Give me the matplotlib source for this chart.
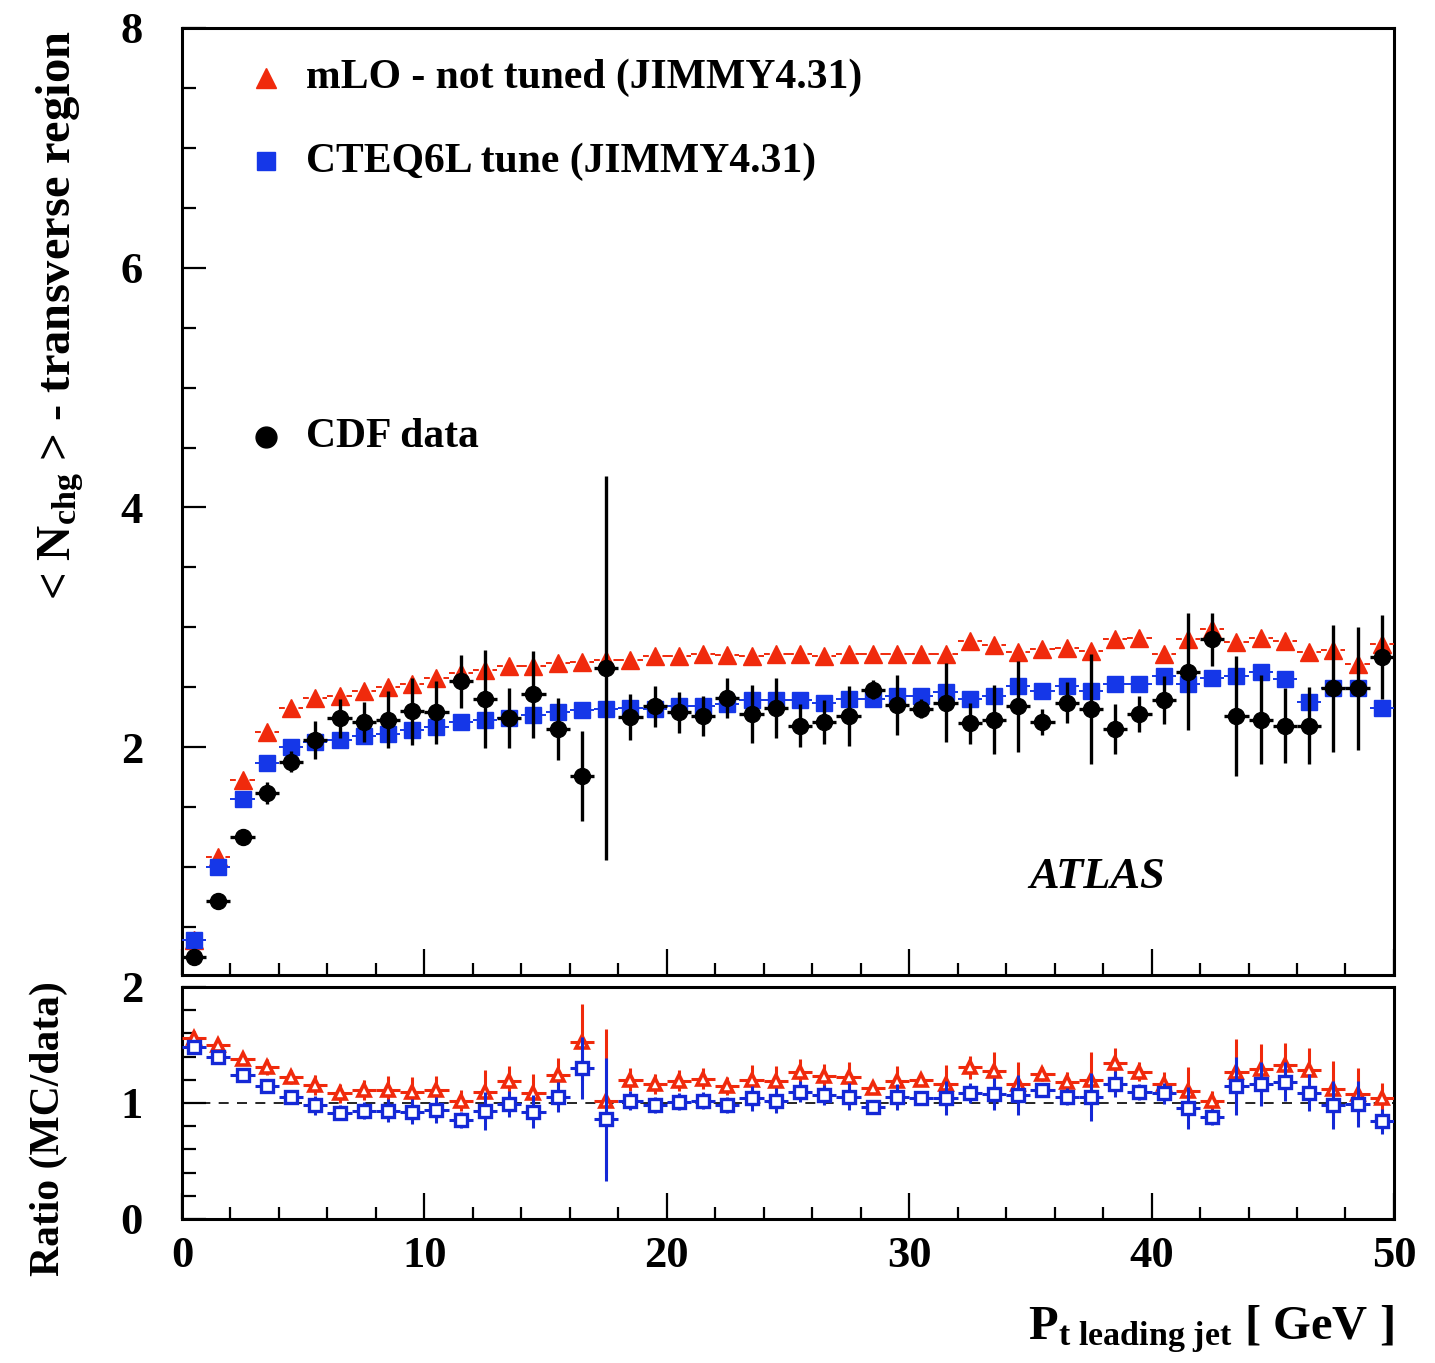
import numpy as np
import matplotlib
matplotlib.use("Agg")
import matplotlib.pyplot as plt
from matplotlib.ticker import MultipleLocator

# leading jet pt bins (1 GeV wide)
pt_bins = np.arange(0.5, 50.0, 1.0)

cdf_data = [0.25, 0.72, 1.25, 1.62, 1.88, 2.06, 2.24, 2.21, 2.23, 2.30,
            2.29, 2.55, 2.40, 2.24, 2.44, 2.15, 1.76, 2.66, 2.25, 2.34,
            2.29, 2.26, 2.41, 2.275, 2.33, 2.18, 2.21, 2.26, 2.48, 2.35,
            2.32, 2.37, 2.20, 2.23, 2.34, 2.21, 2.37, 2.32, 2.15, 2.28,
            2.39, 2.63, 2.90, 2.26, 2.23, 2.18, 2.18, 2.49, 2.49, 2.75]
cdf_err = [0.02, 0.02, 0.02, 0.09, 0.09, 0.16, 0.16, 0.17, 0.24, 0.28,
           0.26, 0.22, 0.41, 0.25, 0.36, 0.26, 0.375, 1.6, 0.19, 0.17,
           0.17, 0.17, 0.17, 0.24, 0.25, 0.18, 0.18, 0.25, 0.08, 0.25,
           0.08, 0.33, 0.17, 0.29, 0.38, 0.11, 0.17, 0.46, 0.21, 0.15,
           0.20, 0.49, 0.22, 0.50, 0.37, 0.31, 0.32, 0.53, 0.51, 0.35]
mlo = [0.39, 1.08, 1.73, 2.125, 2.33, 2.41, 2.43, 2.47, 2.50, 2.53,
       2.58, 2.62, 2.64, 2.68, 2.68, 2.70, 2.71, 2.73, 2.73, 2.76,
       2.76, 2.775, 2.77, 2.76, 2.78, 2.78, 2.76, 2.78, 2.78, 2.78,
       2.78, 2.78, 2.89, 2.85, 2.79, 2.82, 2.83, 2.80, 2.90, 2.91,
       2.775, 2.905, 2.99, 2.88, 2.91, 2.89, 2.79, 2.81, 2.69, 2.86]
cteq = [0.39, 1.00, 1.57, 1.87, 2.00, 2.04, 2.06, 2.09, 2.11, 2.14,
        2.17, 2.21, 2.23, 2.24, 2.27, 2.29, 2.31, 2.32, 2.33, 2.32,
        2.34, 2.34, 2.36, 2.39, 2.39, 2.39, 2.37, 2.40, 2.40, 2.43,
        2.43, 2.46, 2.40, 2.43, 2.51, 2.47, 2.51, 2.47, 2.53, 2.53,
        2.59, 2.53, 2.58, 2.59, 2.63, 2.57, 2.38, 2.49, 2.49, 2.33]

ratio_mlo = [1.556, 1.50, 1.376, 1.31, 1.22, 1.155, 1.083, 1.11, 1.11, 1.097,
             1.11, 1.02, 1.097, 1.19, 1.09, 1.24, 1.527, 1.02, 1.20, 1.163,
             1.19, 1.21, 1.146, 1.20, 1.19, 1.27, 1.232, 1.22, 1.126, 1.19,
             1.20, 1.163, 1.307, 1.278, 1.163, 1.25, 1.183, 1.20, 1.341, 1.27,
             1.163, 1.106, 1.02, 1.27, 1.29, 1.327, 1.284, 1.118, 1.077, 1.04]
ratio_mlo_err = [0.06, 0.045, 0.05, 0.07, 0.06, 0.09, 0.08, 0.085, 0.12, 0.13,
                 0.125, 0.09, 0.19, 0.13, 0.16, 0.15, 0.33, 0.62, 0.10, 0.085,
                 0.09, 0.09, 0.08, 0.125, 0.13, 0.105, 0.10, 0.135, 0.04, 0.125,
                 0.04, 0.16, 0.10, 0.165, 0.19, 0.06, 0.085, 0.24, 0.13, 0.085,
                 0.10, 0.205, 0.08, 0.28, 0.215, 0.19, 0.19, 0.24, 0.22, 0.13]
ratio_cteq = [1.484, 1.40, 1.24, 1.146, 1.05, 0.98, 0.917, 0.934, 0.934, 0.925,
              0.94, 0.854, 0.931, 0.99, 0.925, 1.054, 1.30, 0.86, 1.02, 0.983,
              1.01, 1.02, 0.983, 1.04, 1.02, 1.097, 1.069, 1.054, 0.968, 1.05,
              1.04, 1.04, 1.083, 1.077, 1.069, 1.112, 1.054, 1.05, 1.163, 1.097,
              1.083, 0.954, 0.882, 1.146, 1.163, 1.183, 1.089, 0.983, 0.99, 0.84]
ratio_cteq_err = [0.06, 0.04, 0.05, 0.06, 0.05, 0.08, 0.065, 0.07, 0.10, 0.11,
                  0.11, 0.07, 0.16, 0.11, 0.14, 0.13, 0.27, 0.53, 0.085, 0.07,
                  0.075, 0.075, 0.07, 0.11, 0.11, 0.09, 0.085, 0.115, 0.03, 0.11,
                  0.035, 0.145, 0.085, 0.14, 0.17, 0.055, 0.075, 0.21, 0.115, 0.07,
                  0.09, 0.18, 0.07, 0.25, 0.19, 0.17, 0.16, 0.21, 0.20, 0.11]

RED = "#f02a0c"
BLUE = "#1537e8"
BLUE_R = "#1428d6"

plt.rcParams["font.family"] = ["Liberation Serif", "DejaVu Serif"]
plt.rcParams["font.weight"] = "bold"
plt.rcParams["axes.labelweight"] = "bold"
plt.rcParams["mathtext.fontset"] = "custom"
plt.rcParams["mathtext.rm"] = "Liberation Serif:bold"
plt.rcParams["mathtext.bf"] = "Liberation Serif:bold"
plt.rcParams["mathtext.it"] = "Liberation Serif:bold:italic"


def style_axis(ax, ymaj, ymin):
    ax.set_xlim(0, 50)
    ax.xaxis.set_major_locator(MultipleLocator(10))
    ax.xaxis.set_minor_locator(MultipleLocator(2))
    ax.yaxis.set_major_locator(MultipleLocator(ymaj))
    ax.yaxis.set_minor_locator(MultipleLocator(ymin))
    ax.tick_params(which="both", direction="in", top=False, right=False,
                   width=1.6, labelsize=32)
    ax.tick_params(axis="x", which="major", length=19, pad=12)
    ax.tick_params(axis="x", which="minor", length=9)
    ax.tick_params(axis="y", which="major", length=17, pad=28)
    ax.tick_params(axis="y", which="minor", length=10)
    for s in ax.spines.values():
        s.set_linewidth(2.2)


fig = plt.figure(figsize=(14.35, 13.63), dpi=100)
ax = fig.add_axes([0.1268, 0.2847, 0.8446, 0.6948])
axr = fig.add_axes([0.1268, 0.1057, 0.8446, 0.1702])

# main panel
r = ax.errorbar(pt_bins, mlo, xerr=0.5, fmt="^", color=RED, ms=13,
                elinewidth=1.4, capsize=0, zorder=3)
r[2][0].set_linestyle((0, (3, 2)))
ax.errorbar(pt_bins, cteq, xerr=0.5, fmt="s", color=BLUE, ms=12,
            elinewidth=1.4, capsize=0, zorder=4)
ax.errorbar(pt_bins, cdf_data, xerr=0.5, yerr=cdf_err, fmt="o", color="black",
            ms=11.5, elinewidth=2.4, capsize=0, zorder=5)

style_axis(ax, 2, 0.5)
ax.set_ylim(0.1, 8)
ax.set_xticklabels([])
ax.set_ylabel(r"< N$_{\mathrm{chg}}$ > - transverse region", fontsize=35)
ax.yaxis.set_label_coords(-0.079, 0.697)

# legend entries
ax.plot([0.069], [0.947], "^", color=RED, ms=14, transform=ax.transAxes)
ax.text(0.102, 0.947, "mLO - not tuned (JIMMY4.31)", fontsize=30,
        va="center", transform=ax.transAxes)
ax.plot([0.069], [0.859], "s", color=BLUE, ms=13, transform=ax.transAxes)
ax.text(0.102, 0.859, "CTEQ6L tune (JIMMY4.31)", fontsize=30,
        va="center", transform=ax.transAxes)
ax.plot([0.069], [0.568], "o", color="black", ms=15, transform=ax.transAxes)
ax.text(0.102, 0.568, "CDF data", fontsize=30, va="center",
        transform=ax.transAxes)
ax.text(0.811, 0.103, "ATLAS", fontsize=32, style="italic", ha="right",
        va="center", transform=ax.transAxes)

# ratio panel
axr.axhline(1.0, color="black", lw=1.2, ls=(0, (6, 5)), zorder=1)
axr.errorbar(pt_bins, ratio_mlo, xerr=0.5, yerr=ratio_mlo_err, fmt="^",
             color=RED, mfc="white", mec=RED, mew=2.6, ms=9,
             elinewidth=2.2, capsize=0, zorder=3)
axr.errorbar(pt_bins, ratio_cteq, xerr=0.5, yerr=ratio_cteq_err, fmt="s",
             color=BLUE_R, mfc="white", mec=BLUE_R, mew=2.4, ms=8,
             elinewidth=2.2, capsize=0, zorder=4)
style_axis(axr, 1, 0.2)
axr.set_ylim(0, 2)
axr.set_xticks([0, 10, 20, 30, 40, 50])
axr.set_ylabel("Ratio (MC/data)", fontsize=30)
axr.yaxis.set_label_coords(-0.094, 0.39)
axr.set_xlabel(r"P$_{\mathrm{t\ leading\ jet}}$ [ GeV ]", fontsize=35,
               ha="right", x=1.0, labelpad=20)

fig.savefig("out.png", dpi=100, facecolor="white")
